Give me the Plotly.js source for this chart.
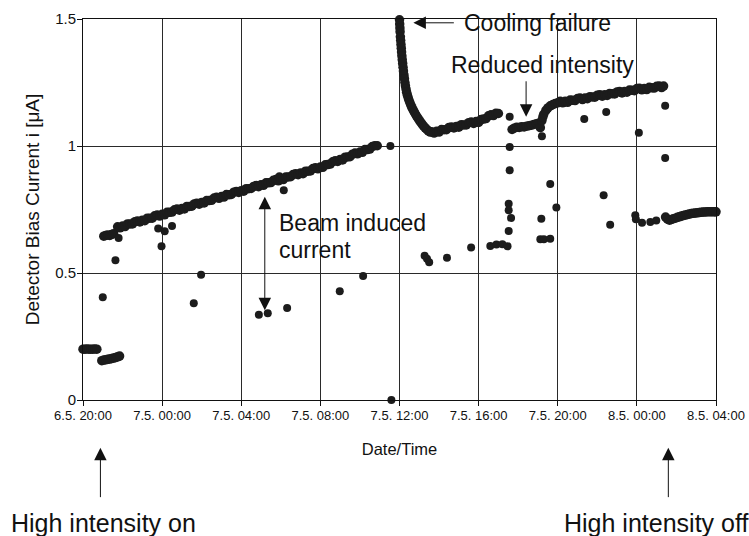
<!DOCTYPE html>
<html>
<head>
<meta charset="utf-8">
<script src="https://cdn.plot.ly/plotly-3.0.1.min.js"></script>
<style>html,body{margin:0;padding:0;background:#fff;}#chart{width:749px;height:536px;}</style>
</head>
<body>
<div id="chart"></div>
<script>
// Hours since 6.5. 20:00
const tickHours = [0, 4, 8, 12, 16, 20, 24, 28, 32];
const tickLabels = ["6.5. 20:00", "7.5. 00:00", "7.5. 04:00", "7.5. 08:00", "7.5. 12:00", "7.5. 16:00", "7.5. 20:00", "8.5. 00:00", "8.5. 04:00"];
const currentTicks = [0, 0.5, 1, 1.5];
const currentTickLabels = ["0", "0.5", "1", "1.5"];

// before high intensity
const preHours = [0, 0.1, 0.2, 0.3, 0.4, 0.5, 0.6, 0.7];
const preCurrent = [0.2, 0.2, 0.201, 0.2, 0.2, 0.2, 0.201, 0.2];
const lowHours = [0.95, 1.05, 1.15, 1.25, 1.35, 1.45, 1.55, 1.65, 1.75, 1.85];
const lowCurrent = [0.155, 0.157, 0.158, 0.16, 0.161, 0.163, 0.165, 0.167, 0.17, 0.173];

// rising beam-induced current until the cooling failure
const rampHours = [1.05, 1.15, 1.25, 1.35, 1.45, 1.55,
  1.75, 1.875, 2.0, 2.125, 2.25, 2.375, 2.5, 2.625, 2.75, 2.875, 3.0, 3.125, 3.25, 3.375, 3.5, 3.625,
  3.75, 3.875, 4.0, 4.125, 4.25, 4.375, 4.5, 4.625, 4.75, 4.875, 5.0, 5.125, 5.25, 5.375, 5.5, 5.625,
  5.75, 5.875, 6.0, 6.125, 6.25, 6.375, 6.5, 6.625, 6.75, 6.875, 7.0, 7.125, 7.25, 7.375, 7.5, 7.625,
  7.75, 7.875, 8.0, 8.125, 8.25, 8.375, 8.5, 8.625, 8.75, 8.875, 9.0, 9.125, 9.25, 9.375, 9.5, 9.625,
  9.75, 9.875, 9.93, 10.0, 10.125, 10.25, 10.375, 10.5, 10.625, 10.75, 10.875, 11.0, 11.125, 11.25, 11.375,
  11.5, 11.625, 11.75, 11.875, 12.0, 12.125, 12.25, 12.375, 12.5, 12.625, 12.75, 12.875, 13.0, 13.125,
  13.25, 13.375, 13.5, 13.625, 13.75, 13.875, 14.0, 14.125, 14.25, 14.375, 14.5, 14.625, 14.75, 14.875];
const rampCurrent = [0.645, 0.648, 0.65, 0.648, 0.652, 0.655,
  0.682, 0.678, 0.685, 0.683, 0.693, 0.693, 0.693, 0.702, 0.705, 0.701, 0.708, 0.706, 0.716, 0.716, 0.716, 0.725,
  0.728, 0.724, 0.731, 0.729, 0.739, 0.739, 0.740, 0.749, 0.752, 0.747, 0.754, 0.752, 0.762, 0.762, 0.763, 0.772,
  0.775, 0.771, 0.778, 0.776, 0.785, 0.785, 0.786, 0.795, 0.798, 0.794, 0.801, 0.799, 0.809, 0.808, 0.809, 0.818,
  0.821, 0.817, 0.824, 0.822, 0.832, 0.832, 0.833, 0.841, 0.844, 0.840, 0.847, 0.845, 0.855, 0.855, 0.856, 0.865,
  0.868, 0.863, 0.878, 0.870, 0.868, 0.878, 0.878, 0.879, 0.888, 0.891, 0.887, 0.894, 0.891, 0.901, 0.901,
  0.902, 0.911, 0.914, 0.910, 0.917, 0.916, 0.926, 0.927, 0.929, 0.938, 0.942, 0.939, 0.947, 0.945,
  0.956, 0.957, 0.958, 0.968, 0.972, 0.969, 0.976, 0.975, 0.986, 0.986, 0.988, 0.998, 1.001, 1.001];

// cooling failure spike and recovery
const coolHours = [16.0, 16.01, 16.02, 16.03, 16.045, 16.06, 16.075, 16.09, 16.105, 16.12, 16.14, 16.16, 16.18,
  16.2, 16.225, 16.25, 16.275, 16.3, 16.33, 16.36, 16.4, 16.44, 16.48, 16.53, 16.58, 16.63, 16.69, 16.75,
  16.81, 16.87, 16.94, 17.01, 17.08, 17.15, 17.22, 17.3, 17.38, 17.46, 17.55,
  17.625, 17.75, 17.875, 18.0, 18.125, 18.25, 18.375, 18.5, 18.625, 18.75, 18.875, 19.0, 19.125, 19.25,
  19.375, 19.5, 19.625, 19.75, 19.875, 20.0, 20.125, 20.25, 20.375, 20.5, 20.625, 20.75, 20.875, 21.0];
const coolCurrent = [1.497, 1.48, 1.465, 1.45, 1.43, 1.415, 1.4, 1.385, 1.37, 1.355, 1.34, 1.325, 1.31,
  1.295, 1.28, 1.265, 1.25, 1.237, 1.224, 1.212, 1.2, 1.19, 1.18, 1.17, 1.16, 1.151, 1.142, 1.133,
  1.125, 1.117, 1.109, 1.1, 1.093, 1.085, 1.078, 1.071, 1.065, 1.059, 1.055,
  1.056, 1.051, 1.058, 1.055, 1.065, 1.064, 1.064, 1.073, 1.075, 1.071, 1.077, 1.074, 1.084, 1.083,
  1.083, 1.092, 1.094, 1.089, 1.096, 1.093, 1.104, 1.106, 1.108, 1.119, 1.123, 1.12, 1.129, 1.128];

// reduced intensity and the final ramp
const reducedHours = [21.69, 21.8, 21.925, 22.05, 22.175, 22.3, 22.425, 22.55, 22.675, 22.8, 22.925, 23.03,
  23.12, 23.2, 23.25, 23.29, 23.4, 23.5, 23.625, 23.75, 23.875, 24.0,
  24.125, 24.25, 24.375, 24.5, 24.625, 24.75, 24.875, 25.0, 25.125, 25.25, 25.375, 25.5, 25.625, 25.75,
  25.875, 26.0, 26.125, 26.25, 26.375, 26.5, 26.625, 26.75, 26.875, 27.0, 27.125, 27.25, 27.375, 27.5,
  27.625, 27.75, 27.875, 28.0, 28.125, 28.25, 28.375, 28.5, 28.625, 28.75, 28.875, 29.0, 29.125, 29.25, 29.35];
const reducedCurrent = [1.065, 1.07, 1.074, 1.073, 1.076, 1.075, 1.078, 1.08, 1.082, 1.085, 1.088, 1.09,
  1.072, 1.1, 1.115, 1.125, 1.14, 1.15, 1.158, 1.163, 1.167, 1.17,
  1.176, 1.17, 1.176, 1.172, 1.181, 1.18, 1.179, 1.187, 1.189, 1.183, 1.189, 1.186, 1.194, 1.193,
  1.192, 1.2, 1.202, 1.196, 1.202, 1.199, 1.207, 1.206, 1.205, 1.213, 1.215, 1.209, 1.215, 1.212,
  1.22, 1.219, 1.218, 1.226, 1.227, 1.221, 1.226, 1.222, 1.231, 1.229, 1.228, 1.235, 1.236, 1.23, 1.236];

// after high intensity off
const offHours = [29.45, 29.55, 29.65, 29.75, 29.85, 29.95, 30.05, 30.15,
  30.25, 30.35, 30.45, 30.55, 30.65, 30.75, 30.85, 30.95, 31.05, 31.15, 31.25, 31.35, 31.45, 31.55,
  31.65, 31.75, 31.85, 31.95, 32.0];
const offCurrent = [0.72, 0.712, 0.708, 0.711, 0.714, 0.716, 0.719, 0.721,
  0.724, 0.726, 0.728, 0.73, 0.732, 0.734, 0.735, 0.736, 0.737, 0.738, 0.739, 0.74, 0.74, 0.741,
  0.741, 0.741, 0.741, 0.741, 0.741];

// scattered single readings
const strayHours = [1.0, 1.64, 1.8, 3.8, 4.13, 4.5, 3.97, 5.97, 5.6, 8.89, 9.34, 10.15, 10.32, 12.98, 14.16, 15.54, 15.59,
  17.27, 17.39, 17.5, 18.4, 19.62, 20.59, 20.9, 21.2, 21.46, 21.52, 21.52, 21.64, 21.52, 21.57, 21.57, 21.57,
  23.12, 23.3, 23.62, 23.17, 23.2, 23.62, 23.93, 25.34, 26.45, 26.32, 26.65, 27.92, 27.95, 28.1, 28.26, 28.68, 28.98,
  29.43, 29.43];
const strayCurrent = [0.405, 0.55, 0.638, 0.675, 0.664, 0.685, 0.605, 0.493, 0.381, 0.336, 0.342, 0.826, 0.362, 0.428, 0.488, 1.0, 0.0,
  0.568, 0.556, 0.542, 0.56, 0.6, 0.606, 0.612, 0.613, 0.605, 0.773, 0.747, 0.717, 0.665, 0.905, 0.996, 1.115,
  0.633, 0.633, 0.635, 0.714, 1.038, 0.85, 0.758, 1.106, 1.134, 0.806, 0.69, 0.727, 0.712, 1.052, 0.698, 0.701, 0.707,
  1.158, 0.953];

const ink = "#1c1c1c";
const denseGroups = [[preHours, preCurrent], [lowHours, lowCurrent], [rampHours, rampCurrent], [coolHours, coolCurrent],
  [reducedHours, reducedCurrent], [offHours, offCurrent]];
const traces = denseGroups.map(g => ({
  x: g[0], y: g[1], type: "scatter", mode: "markers",
  marker: {size: 9.5, color: ink}, hoverinfo: "skip", showlegend: false, cliponaxis: false
}));
traces.push({
  x: strayHours, y: strayCurrent, type: "scatter", mode: "markers",
  marker: {size: 8, color: ink}, hoverinfo: "skip", showlegend: false, cliponaxis: false
});

const font = "Liberation Sans, Arial, Helvetica, sans-serif";
const annFont = {family: font, size: 23, color: "#111"};
const bigFont = {family: font, size: 25, color: "#111"};
const arrowStyle = {arrowhead: 2, arrowsize: 2.5, arrowwidth: 1, arrowcolor: "#111"};
const annotations = [
  Object.assign({x: 16.7, y: 1.485, xref: "x", yref: "y", text: "", showarrow: true, ax: 42, ay: 0}, arrowStyle),
  {x: 19.16, y: 1.484, xref: "x", yref: "y", text: "Cooling failure", showarrow: false,
   xanchor: "left", yanchor: "middle", font: annFont},
  {x: 18.48, y: 1.318, xref: "x", yref: "y", text: "Reduced intensity", showarrow: false,
   xanchor: "left", yanchor: "middle", font: annFont},
  Object.assign({x: 22.4, y: 1.115, xref: "x", yref: "y", text: "", showarrow: true, ax: 0, ay: -37}, arrowStyle),
  {x: 9.81, y: 0.697, xref: "x", yref: "y", text: "Beam induced", showarrow: false,
   xanchor: "left", yanchor: "middle", font: annFont},
  {x: 9.81, y: 0.591, xref: "x", yref: "y", text: "current", showarrow: false,
   xanchor: "left", yanchor: "middle", font: annFont},
  Object.assign({x: 9.19, y: 0.353, xref: "x", yref: "y", text: "", showarrow: true, ax: 0, ay: -115,
   startarrowhead: 2, startarrowsize: 2.5, arrowside: "end+start"}, arrowStyle),
  Object.assign({x: 0.88, y: -0.125, xref: "x", yref: "paper", text: "", showarrow: true, ax: 0, ay: 51}, arrowStyle),
  Object.assign({x: 29.59, y: -0.125, xref: "x", yref: "paper", text: "", showarrow: true, ax: 0, ay: 51}, arrowStyle),
  {x: 0.0324, y: -0.322, xref: "paper", yref: "paper", text: "High intensity on", showarrow: false,
   xanchor: "center", yanchor: "middle", font: bigFont},
  {x: 0.905, y: -0.322, xref: "paper", yref: "paper", text: "High intensity off", showarrow: false,
   xanchor: "center", yanchor: "middle", font: bigFont}
];

const layout = {
  width: 749, height: 536,
  margin: {l: 83, r: 33, t: 19, b: 136, pad: 0},
  paper_bgcolor: "#fff", plot_bgcolor: "#fff",
  font: {family: font, color: "#111", size: 13},
  xaxis: {
    range: [0, 32], tickmode: "array", tickvals: tickHours, ticktext: tickLabels,
    showgrid: true, gridcolor: "#2a2a2a", gridwidth: 1, zeroline: false,
    showline: true, linecolor: "#111", linewidth: 1, mirror: true,
    ticks: "outside", ticklen: 5, tickcolor: "#111", tickfont: {size: 13}, ticklabelstandoff: -2,
    title: {text: "Date/Time", font: {size: 16.5}, standoff: 21}
  },
  yaxis: {
    range: [0, 1.5], tickmode: "array", tickvals: currentTicks, ticktext: currentTickLabels,
    showgrid: true, gridcolor: "#2a2a2a", gridwidth: 1, zeroline: false,
    showline: true, linecolor: "#111", linewidth: 1, mirror: true,
    ticks: "outside", ticklen: 5, tickcolor: "#111", tickfont: {size: 15}, ticklabelstandoff: -2,
    title: {text: "Detector Bias Current i [μA]", font: {size: 19}, standoff: 10}
  },
  annotations: annotations
};

Plotly.newPlot("chart", traces, layout, {displayModeBar: false, staticPlot: true});
</script>
</body>
</html>
